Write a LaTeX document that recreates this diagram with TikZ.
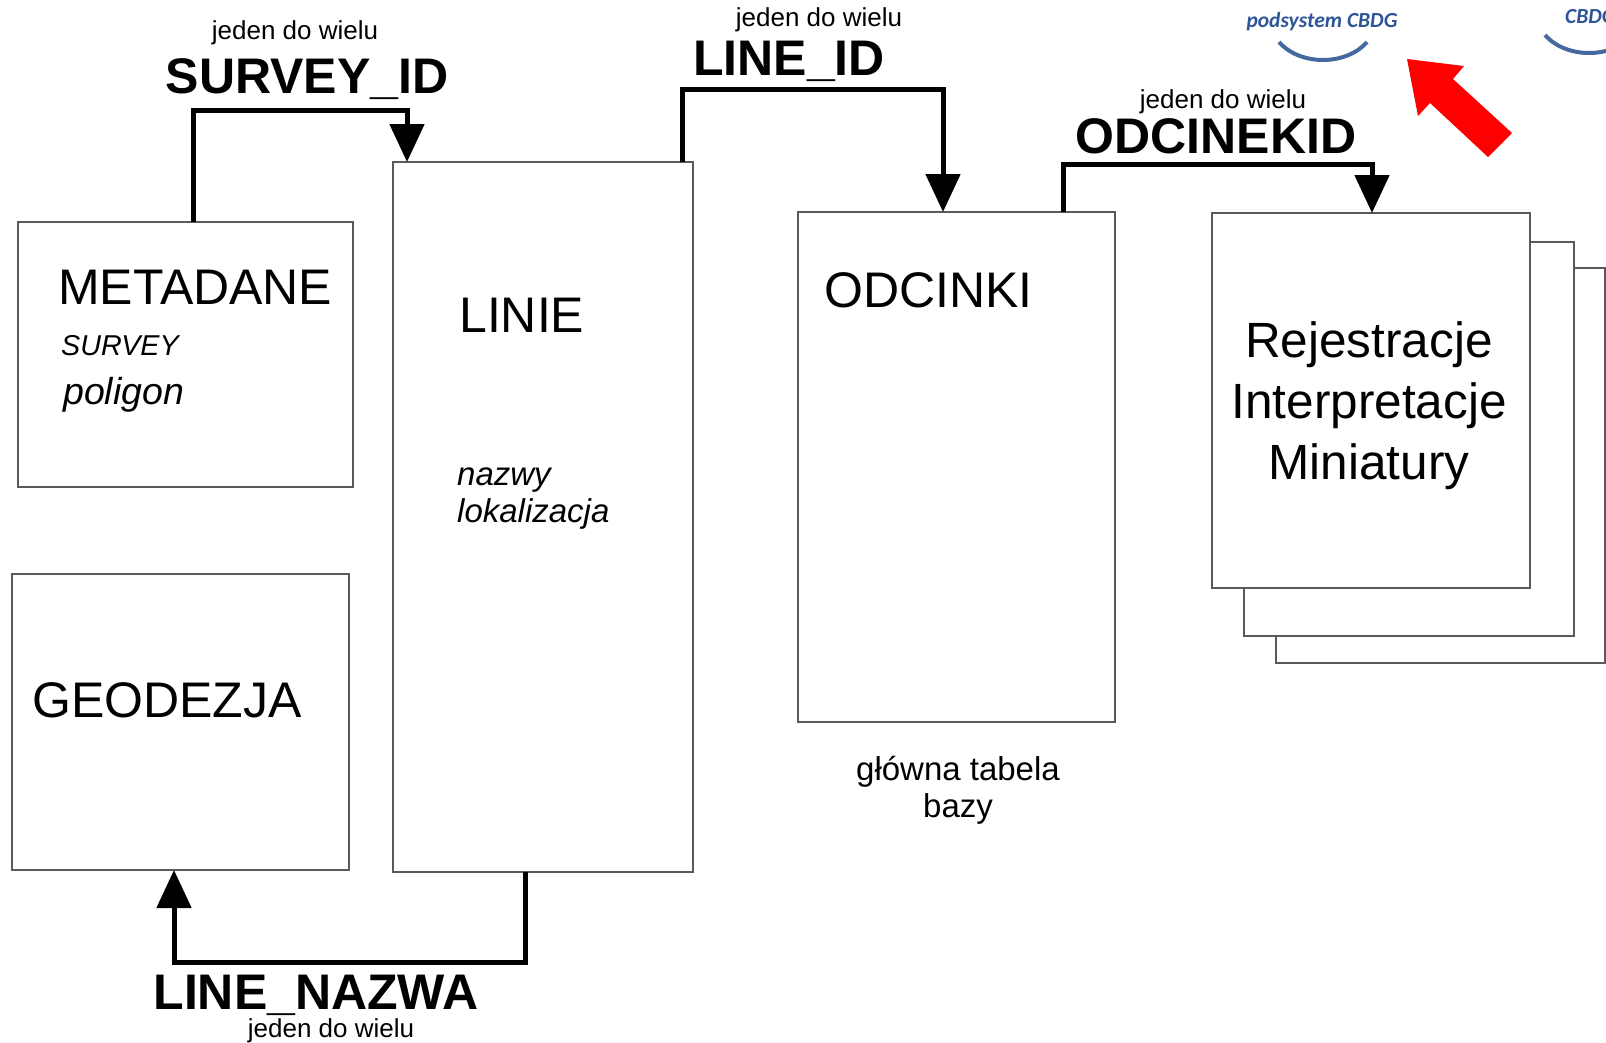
\documentclass[tikz,border=0pt]{standalone}
\usepackage{fontspec}
\setmainfont{Liberation Sans}
\newfontfamily\logofont{Carlito}
\usetikzlibrary{arrows.meta}
\definecolor{boxgray}{HTML}{5A5A5A}
\definecolor{logoblue}{HTML}{2F5597}
\definecolor{arcblue}{HTML}{44699E}
\begin{document}
\begin{tikzpicture}[x=1pt,y=-1pt,
  box/.style={draw=boxgray, line width=1.4pt, fill=white, inner sep=0pt, outer sep=0pt},
  title/.style={font=\fontsize{50}{60}\selectfont, inner sep=0pt, anchor=base west},
  center title/.style={font=\fontsize{49.5}{59}\selectfont, inner sep=0pt, anchor=base},
  note/.style={font=\itshape\fontsize{33}{40}\selectfont, inner sep=0pt, anchor=base west},
  keyname/.style={font=\bfseries\fontsize{50}{60}\selectfont, inner sep=0pt, anchor=base},
  card/.style={font=\fontsize{26}{31}\selectfont, inner sep=0pt, anchor=base},
  caption/.style={font=\fontsize{33}{40}\selectfont, inner sep=0pt, anchor=base},
  conn/.style={line width=5pt, -{Triangle[width=34pt,length=38pt]}},
  logo/.style={font=\logofont\bfseries\itshape\fontsize{21.5}{26}\selectfont, text=logoblue, inner sep=0pt, anchor=base}
]
\useasboundingbox (0,0) rectangle (1606,1042);
\clip (0,0) rectangle (1606,1042);

% tables
\node[box, minimum width=335pt, minimum height=265pt] (meta)  at (185.5,354.5) {};
\node[box, minimum width=337pt, minimum height=296pt] (geo)   at (180.5,722) {};
\node[box, minimum width=300pt, minimum height=710pt] (linie) at (543,517) {};
\node[box, minimum width=317pt, minimum height=510pt] (odc)   at (956.5,467) {};

% stacked sheets of the detail tables
\node[box, minimum width=329pt, minimum height=395pt] (rej3) at (1440.5,465.5) {};
\node[box, minimum width=330pt, minimum height=394pt] (rej2) at (1409,439) {};
\node[box, minimum width=318pt, minimum height=375pt] (rej)  at (1371,400.5) {};

% table titles and notes
\node[title] (metaT) at (58,304) {METADANE};
\node[font=\itshape\fontsize{28.7}{34}\selectfont, inner sep=0pt, anchor=base west] (metaS) at (61,355) {SURVEY};
\node[font=\itshape\fontsize{37.5}{45}\selectfont, inner sep=0pt, anchor=base west] (metaP) at (63,404) {poligon};
\node[title] (geoT) at (32,717) {GEODEZJA};
\node[title] (linieT) at (459,332) {LINIE};
\node[note] (linieN1) at (457,485) {nazwy};
\node[note] (linieN2) at (457,522) {lokalizacja};
\node[title] (odcT) at (824,307) {ODCINKI};
\node[center title] (rejT1) at (1369,357) {Rejestracje};
\node[center title] (rejT2) at (1369,418) {Interpretacje};
\node[center title] (rejT3) at (1369,479) {Miniatury};
\node[caption] (odcC1) at (958,780) {główna tabela};
\node[caption] (odcC2) at (958,817) {bazy};

% relations
\draw[conn] (meta.north -| 193,0) |- (407,110) -- (linie.north -| 407,0);
\draw[conn] (linie.north -| 682,0) |- (943,89) -- (odc.north -| 943,0);
\draw[conn] (odc.north -| 1063,0) |- (1372,164) -- (rej.north -| 1372,0);
\draw[conn] (linie.south -| 525,0) |- (174,962) -- (geo.south -| 174,0);

% relation labels
\node[card] (c1) at (295,39) {jeden do wielu};
\node[keyname] (k1) at (307,93) {SURVEY\_ID};
\node[card] (c2) at (819,26) {jeden do wielu};
\node[keyname] (k2) at (789,75) {LINE\_ID};
\node[card] (c3) at (1223,108) {jeden do wielu};
\node[keyname] (k3) at (1216,153) {ODCINEKID};
\node[keyname] (k4) at (316,1009) {LINE\_NAZWA};
\node[card] (c4) at (331,1037) {jeden do wielu};

% subsystem badges
\node[logo] (sub) at (1322,27) {podsystem CBDG};
\draw[arcblue, line width=4pt] (1279,42) .. controls (1300,66) and (1346,66) .. (1367,42);
\node[logo, anchor=base west] (sub2) at (1565,23) {CBDG};
\draw[arcblue, line width=4pt] (1545,35) .. controls (1566,59) and (1612,59) .. (1633,35);

% pointer
\fill[red] (1407,59) -- (1418,116) -- (1430,103) -- (1488,157) -- (1512,133)
  -- (1453,79) -- (1464,66) -- cycle;
\end{tikzpicture}
\end{document}
